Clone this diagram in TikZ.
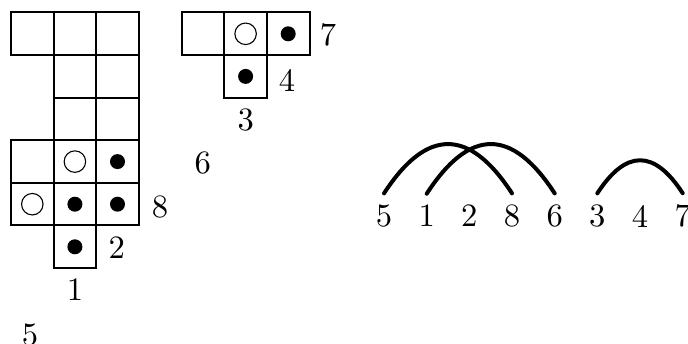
\documentclass[tikz,border=0pt]{standalone}
\usetikzlibrary{calc}
\begin{document}
\begin{tikzpicture}[x=1pt,y=1pt,
  cellbox/.style={draw,line width=2pt,minimum size=42.6pt,inner sep=0pt,outer sep=0pt},
  fdot/.style={circle,fill=black,minimum size=15pt,inner sep=0pt},
  odot/.style={circle,draw=black,line width=1.1pt,minimum size=21.5pt,inner sep=0pt},
  num/.style={inner sep=0pt,scale=3.26,font=\fontsize{10}{12}\selectfont},
  anum/.style={num,outer sep=3.5pt},
  arcline/.style={line width=4pt,line cap=round},
]
\useasboundingbox (0,0) rectangle (688,343);
% left grid
\foreach \r/\c in {0/0,0/1,0/2,1/1,1/2,2/1,2/2,3/0,3/1,3/2,4/0,4/1,4/2,5/1}{
  \node[cellbox] (L-\r-\c) at ({32.3+42.6*\c},{309.2-42.6*\r}) {};
}
% right grid
\foreach \r/\c in {0/0,0/1,0/2,1/1}{
  \node[cellbox] (R-\r-\c) at ({203+42.6*\c},{309.2-42.6*\r}) {};
}
% dots
\node[odot] (o1) at (L-3-1) {};
\node[fdot] (f1) at (L-3-2) {};
\node[odot] (o2) at (L-4-0) {};
\node[fdot] (f2) at (L-4-1) {};
\node[fdot] (f3) at (L-4-2) {};
\node[fdot] (f4) at (L-5-1) {};
\node[odot] (o3) at (R-0-1) {};
\node[fdot] (f5) at (R-0-2) {};
\node[fdot] (f6) at (R-1-1) {};
% labels near grids
\node[num] (g7) at (328,308) {7};
\node[num] (g4) at (287,263) {4};
\node[num] (g3) at (245.7,223) {3};
\node[num] (g6) at (202.7,180) {6};
\node[num] (g8) at (160,136.3) {8};
\node[num] (g2) at (116.7,95) {2};
\node[num] (g1) at (75,53) {1};
\node[num] (g5) at (30,8) {5};
% arc diagram labels
\node[anum] (a5) at (384,127) {5};
\node[anum] (a1) at (426.7,127) {1};
\node[anum] (a2) at (469.3,127) {2};
\node[anum] (a8) at (512,127) {8};
\node[anum] (a6) at (554.7,127) {6};
\node[anum] (a3) at (597.3,127) {3};
\node[anum] (a4) at (640,127) {4};
\node[anum] (a7) at (682.7,127) {7};
\draw[arcline] (a5.north) to[out=57,in=123,looseness=1.57] (a8.north);
\draw[arcline] (a1.north) to[out=57,in=123,looseness=1.57] (a6.north);
\draw[arcline] (a3.north) to[out=57,in=123,looseness=1.57] (a7.north);
\end{tikzpicture}
\end{document}
